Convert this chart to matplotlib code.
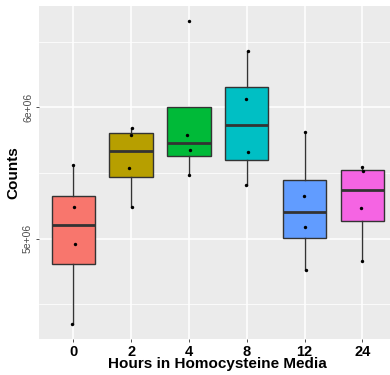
import matplotlib
matplotlib.use('Agg')
import matplotlib.pyplot as plt

plt.rcParams['font.family'] = ['Liberation Sans', 'DejaVu Sans']

# hours in homocysteine media, and the four counts measured at each time
hours = ['0', '2', '4', '8', '12', '24']
counts = [
    [5.559e6, 5.243e6, 4.959e6, 4.350e6],
    [5.842e6, 5.793e6, 5.541e6, 5.243e6],
    [6.658e6, 5.788e6, 5.676e6, 5.487e6],
    [6.433e6, 6.066e6, 5.660e6, 5.406e6],
    [5.816e6, 5.321e6, 5.089e6, 4.763e6],
    [5.549e6, 5.513e6, 5.235e6, 4.826e6],
]
# small horizontal jitter of the points (in category units)
jitter = [
    [0.0, 0.017, 0.023, -0.023],
    [0.012, 0.0, -0.029, 0.017],
    [0.0, -0.035, 0.012, 0.006],
    [0.029, -0.017, 0.023, -0.017],
    [0.017, -0.012, 0.017, 0.029],
    [-0.006, 0.006, -0.029, -0.012],
]
fills = ['#F8766D', '#B79F00', '#00BA38', '#00BFC4', '#619CFF', '#F564E3']

fig = plt.figure(figsize=(3.9, 3.75), dpi=100)
ax = fig.add_axes([38.6 / 390, 1 - 339 / 375, (397 - 38.6) / 390, 333 / 375])
ax.set_facecolor('#EBEBEB')
for s in ax.spines.values():
    s.set_visible(False)

pos = list(range(len(hours)))
bp = ax.boxplot(counts, positions=pos, widths=0.75, patch_artist=True,
                showcaps=False, showfliers=False, whis=1.5, zorder=3,
                boxprops=dict(edgecolor='#333333', linewidth=1.0),
                whiskerprops=dict(color='#333333', linewidth=1.0),
                medianprops=dict(color='#333333', linewidth=2.0))
for patch, c in zip(bp['boxes'], fills):
    patch.set_facecolor(c)

for i, (vals, jit) in enumerate(zip(counts, jitter)):
    ax.scatter([i + j for j in jit], vals, s=6, color='black', zorder=5, linewidths=0)

ax.set_xlim(-0.6, len(hours) - 0.4)
ax.set_ylim(4.2346e6, 6.773e6)

ax.set_yticks([5e6, 6e6])
ax.set_yticks([4.5e6, 5.5e6, 6.5e6], minor=True)
ax.set_yticklabels(['5e+06', '6e+06'], rotation=90, va='center',
                   fontsize=7.5, color='#4D4D4D')
ax.set_xticks(pos)
ax.set_xticklabels(hours, fontsize=10.5, fontweight='bold', color='black')

ax.grid(which='major', color='white', linewidth=1.1, zorder=0)
ax.grid(which='minor', axis='y', color='white', linewidth=0.55, zorder=0)
ax.set_axisbelow(True)
ax.tick_params(which='major', length=2, width=0.6, color='#333333', pad=2)
ax.tick_params(which='minor', length=0)

ax.set_xlabel('Hours in Homocysteine Media', fontsize=11, fontweight='bold', labelpad=-1)
ax.set_ylabel('Counts', fontsize=11, fontweight='bold', labelpad=2)

fig.savefig('out.png', dpi=100)
